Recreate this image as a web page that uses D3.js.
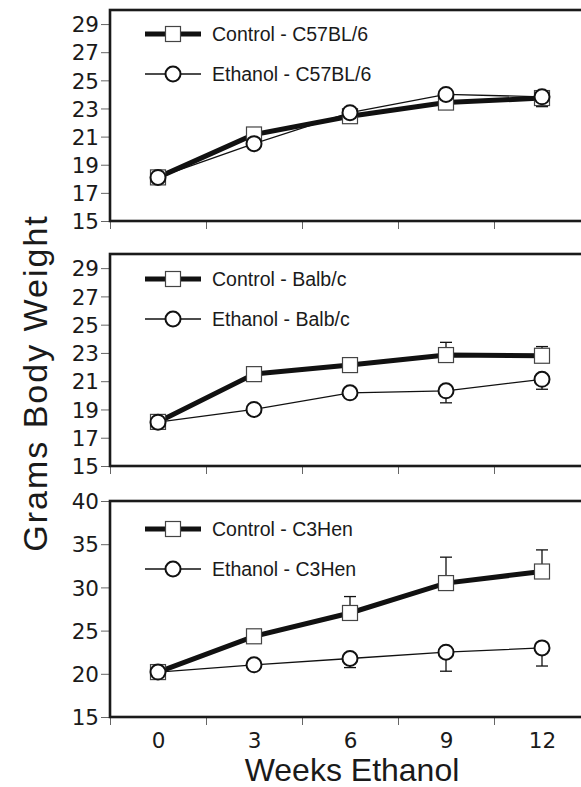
<!DOCTYPE html>
<html>
<head>
<meta charset="utf-8">
<script src="https://cdn.jsdelivr.net/npm/d3@7"></script>
<style>
  body { margin: 0; background: #fff; }
  svg { display: block; font-family: "Liberation Sans", Arial, Helvetica, sans-serif; }
</style>
</head>
<body>
<script>
// base data
const weeks = [0, 3, 6, 9, 12];
const strains = ['C57BL/6', 'Balb/c', 'C3Hen'];

const controlC57 = [18.1, 21.15, 22.45, 23.42, 23.74];
const ethanolC57 = [18.1, 20.5, 22.7, 24.0, 23.83];
const controlC57Err = [0.2, 0.3, 0.3, 0.3, 0.3];
const ethanolC57Err = [0.2, 0.3, 0.3, 0.6, 0.7];

const controlBalb = [18.12, 21.5, 22.14, 22.85, 22.8];
const ethanolBalb = [18.1, 19.0, 20.18, 20.32, 21.13];
const controlBalbErr = [0.2, 0.3, 0.3, 0.9, 0.65];
const ethanolBalbErr = [0.2, 0.3, 0.3, 0.85, 0.7];

const controlC3H = [20.2, 24.34, 27.04, 30.5, 31.84];
const ethanolC3H = [20.2, 21.04, 21.77, 22.5, 23.0];
const controlC3HErr = [0.3, 0.6, 1.9, 3.0, 2.5];
const ethanolC3HErr = [0.3, 0.5, 1.05, 2.2, 2.1];

// tick labels
const yTicksSmall = [15, 17, 19, 21, 23, 25, 27, 29];
const yTicksC3H = [15, 20, 25, 30, 35, 40];
const xTickMarks = [-1.5, 1.5, 4.5, 7.5, 10.5];

// constants
const width = 581;
const height = 787;
const boxLeft = 110;
const boxRight = 590;
const numFont = '"DejaVu Sans", "Liberation Sans", sans-serif';

const panels = [
  { strain: strains[0], control: controlC57, ethanol: ethanolC57, cErr: controlC57Err, eErr: ethanolC57Err,
    domain: [15, 30], ticks: yTicksSmall, top: 10, bottom: 221, legendY: [34, 74] },
  { strain: strains[1], control: controlBalb, ethanol: ethanolBalb, cErr: controlBalbErr, eErr: ethanolBalbErr,
    domain: [15, 30], ticks: yTicksSmall, top: 254, bottom: 466, legendY: [279, 319] },
  { strain: strains[2], control: controlC3H, ethanol: ethanolC3H, cErr: controlC3HErr, eErr: ethanolC3HErr,
    domain: [15, 40], ticks: yTicksC3H, top: 501, bottom: 717, legendY: [529, 569] }
];

const svg = d3.select('body').append('svg')
  .attr('width', width).attr('height', height);

const xScale = d3.scaleLinear().domain([-1.5, 13.5]).range([boxLeft, boxRight]);

const sq = 15;   // square marker size
const rad = 7.5; // circle marker radius
const cap = 6;   // half width of error caps

function drawSquare(g, x, y) {
  g.append('rect')
    .attr('x', x - sq / 2).attr('y', y - sq / 2)
    .attr('width', sq).attr('height', sq)
    .attr('fill', '#fff').attr('stroke', '#444').attr('stroke-width', 1.2);
}
function drawCircle(g, x, y) {
  g.append('circle')
    .attr('cx', x).attr('cy', y).attr('r', rad)
    .attr('fill', '#fff').attr('stroke', '#111').attr('stroke-width', 2);
}

panels.forEach((p, i) => {
  const yScale = d3.scaleLinear().domain(p.domain).range([p.bottom, p.top]);
  const g = svg.append('g');

  // y axis
  const yAxis = g.append('g')
    .attr('transform', `translate(${boxLeft}, 0)`)
    .call(d3.axisLeft(yScale).tickValues(p.ticks).tickSize(9).tickPadding(2));
  yAxis.select('.domain').remove();
  yAxis.selectAll('line').attr('stroke', '#666').attr('stroke-width', 1);
  yAxis.selectAll('text').attr('font-size', 21.5).attr('fill', '#1a1a1a')
    .attr('font-family', numFont).attr('dy', '0.36em');

  // x tick marks
  const xAxis = g.append('g')
    .attr('transform', `translate(0, ${p.bottom})`)
    .call(d3.axisBottom(xScale).tickValues(xTickMarks).tickSize(8).tickFormat(''));
  xAxis.select('.domain').remove();
  xAxis.selectAll('line').attr('stroke', '#666').attr('stroke-width', 1);

  if (i === panels.length - 1) {
    const xLab = g.append('g')
      .attr('transform', `translate(0, ${p.bottom})`)
      .call(d3.axisBottom(xScale).tickValues(weeks).tickSize(0).tickPadding(16));
    xLab.select('.domain').remove();
    xLab.selectAll('text').attr('font-size', 21.5).attr('fill', '#1a1a1a')
      .attr('font-family', numFont);
  }

  // frame
  g.append('rect')
    .attr('x', boxLeft).attr('y', p.top)
    .attr('width', boxRight - boxLeft).attr('height', p.bottom - p.top)
    .attr('fill', 'none').attr('stroke', '#1a1a1a').attr('stroke-width', 2.6);

  const line = d3.line().x((d, j) => xScale(weeks[j])).y(d => yScale(d));

  // lines
  g.append('path').datum(p.control).attr('d', line)
    .attr('fill', 'none').attr('stroke', '#111').attr('stroke-width', 5);
  g.append('path').datum(p.ethanol).attr('d', line)
    .attr('fill', 'none').attr('stroke', '#111').attr('stroke-width', 1.3);

  // error bars: control upward, ethanol downward
  weeks.forEach((w, j) => {
    const x = xScale(w);
    const cTop = yScale(p.control[j] + p.cErr[j]);
    g.append('line').attr('x1', x).attr('x2', x)
      .attr('y1', yScale(p.control[j])).attr('y2', cTop)
      .attr('stroke', '#111').attr('stroke-width', 1.3);
    g.append('line').attr('x1', x - cap).attr('x2', x + cap)
      .attr('y1', cTop).attr('y2', cTop)
      .attr('stroke', '#111').attr('stroke-width', 1.3);
    const eBot = yScale(p.ethanol[j] - p.eErr[j]);
    g.append('line').attr('x1', x).attr('x2', x)
      .attr('y1', yScale(p.ethanol[j])).attr('y2', eBot)
      .attr('stroke', '#111').attr('stroke-width', 1.3);
    g.append('line').attr('x1', x - cap).attr('x2', x + cap)
      .attr('y1', eBot).attr('y2', eBot)
      .attr('stroke', '#111').attr('stroke-width', 1.3);
  });

  // markers
  weeks.forEach((w, j) => drawSquare(g, xScale(w), yScale(p.control[j])));
  weeks.forEach((w, j) => drawCircle(g, xScale(w), yScale(p.ethanol[j])));

  // legend
  const lx1 = 145, lx2 = 201, lmid = 173, tx = 212;
  const [ly1, ly2] = p.legendY;
  g.append('line').attr('x1', lx1).attr('x2', lx2).attr('y1', ly1).attr('y2', ly1)
    .attr('stroke', '#111').attr('stroke-width', 5);
  drawSquare(g, lmid, ly1);
  g.append('text').attr('x', tx).attr('y', ly1 + 7).attr('font-size', 19.5).attr('fill', '#1a1a1a')
    .text(`Control - ${p.strain}`);
  g.append('line').attr('x1', lx1).attr('x2', lx2).attr('y1', ly2).attr('y2', ly2)
    .attr('stroke', '#111').attr('stroke-width', 1.3);
  drawCircle(g, lmid, ly2);
  g.append('text').attr('x', tx).attr('y', ly2 + 7).attr('font-size', 19.5).attr('fill', '#1a1a1a')
    .text(`Ethanol - ${p.strain}`);
});

// axis titles
svg.append('text')
  .attr('transform', 'translate(47, 383) rotate(-90)')
  .attr('text-anchor', 'middle').attr('font-size', 34).attr('letter-spacing', 2)
  .attr('fill', '#1a1a1a')
  .text('Grams Body Weight');

svg.append('text')
  .attr('x', 352).attr('y', 781)
  .attr('text-anchor', 'middle').attr('font-size', 32).attr('fill', '#1a1a1a')
  .text('Weeks Ethanol');
</script>
</body>
</html>
